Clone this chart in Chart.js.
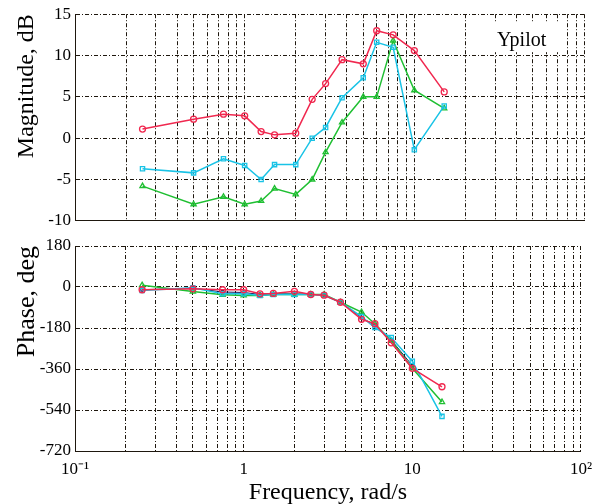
<!DOCTYPE html>
<html>
<head>
<meta charset="utf-8">
<script src="https://cdn.jsdelivr.net/npm/chart.js@4"></script>
<style>
  body { margin: 0; background: #fff; }
  .wrap { position: absolute; left: 0; width: 600px; }
  #top { top: 0; height: 235px; }
  #bottom { top: 230px; height: 274px; }
</style>
</head>
<body>
<div class="wrap" id="top"><canvas id="mag"></canvas></div>
<div class="wrap" id="bottom"><canvas id="phase"></canvas></div>
<script>
const freq = [0.25, 0.5, 0.75, 1, 1.25, 1.5, 2, 2.5, 3, 3.75, 5, 6, 7.5, 10, 15];

const magRed = [1.1, 2.3, 2.9, 2.7, 0.8, 0.4, 0.6, 4.7, 6.6, 9.5, 9.0, 13.0, 12.5, 10.6, 5.6];
const magCyan = [-3.7, -4.2, -2.5, -3.3, -5.0, -3.2, -3.2, 0.0, 1.3, 4.9, 7.3, 11.6, 11.0, -1.4, 3.9];
const magGreen = [-5.8, -8.0, -7.1, -8.0, -7.6, -6.1, -6.8, -5.0, -1.7, 1.9, 5.0, 5.0, 11.8, 5.8, 3.6];

const phRed = [-12, -8, -12, -12, -30, -28, -19, -33, -36, -67, -142, -161, -245, -357, -438];
const phCyan = [-15, -3, -30, -30, -37, -33, -33, -33, -36, -67, -130, -178, -222, -326, -568];
const phGreen = [8, -20, -34, -37, -37, -33, -33, -33, -33, -67, -110, -161, -236, -357, -505];
const phDark = [-12, -5, -22, -24, -33, -30, -30, -32, -36, -67, -135, -168, -232, -345];

const magTicks = [-10, -5, 0, 5, 10, 15];
const phaseTicks = [-720, -540, -360, -180, 0, 180];
const freqLabels = { "0.1": "10⁻¹", "1": "1", "10": "10", "100": "10²" };

const gridColor = "#1e170e";
const serif = "'Liberation Serif', 'Times New Roman', serif";

function logGridValues() {
  const vals = [];
  [0.1, 1, 10].forEach((d) => {
    for (let k = 1; k < 10; k++) vals.push(+(d * k).toPrecision(3));
  });
  vals.push(100);
  return vals;
}

function pts(values) {
  return values.map((y, i) => ({ x: freq[i], y }));
}

function series(values, color, style) {
  return {
    data: pts(values),
    borderColor: color,
    borderWidth: 1.5,
    pointStyle: style,
    pointRadius: 3,
    pointBorderColor: color,
    pointBorderWidth: 1.3,
    pointBackgroundColor: "rgba(255,255,255,0)",
    tension: 0,
  };
}

function xScale(showLabels) {
  return {
    type: "logarithmic",
    min: 0.1,
    max: 100,
    afterBuildTicks: (scale) => {
      scale.ticks = logGridValues().map((value) => ({ value }));
    },
    afterFit: (scale) => {
      scale.height = showLabels ? 53 : 0;
    },
    grid: { color: gridColor, lineWidth: 1, drawTicks: false },
    border: { color: gridColor, dash: [4, 2, 1, 2] },
    ticks: {
      display: showLabels,
      autoSkip: false,
      maxRotation: 0,
      padding: 8,
      color: "#000",
      font: { family: serif, size: 17 },
      callback: (v) => freqLabels[String(v)] ?? "",
    },
    title: {
      display: showLabels,
      text: "Frequency, rad/s",
      color: "#000",
      font: { family: serif, size: 24 },
      padding: { top: 0, bottom: -3 },
    },
  };
}

function yScale(min, max, tickValues, label, titleSize) {
  return {
    min,
    max,
    afterBuildTicks: (scale) => {
      scale.ticks = tickValues.map((value) => ({ value }));
    },
    afterFit: (scale) => {
      scale.width = 75;
    },
    grid: { color: gridColor, lineWidth: 1, drawTicks: false },
    border: { color: gridColor, dash: [4, 2, 1, 2] },
    ticks: {
      padding: 4,
      color: "#000",
      font: { family: serif, size: 17 },
    },
    title: {
      display: true,
      text: label,
      align: "end",
      color: "#000",
      font: { family: serif, size: titleSize },
      padding: { top: 12, bottom: 0 },
    },
  };
}

const ypilotLabel = {
  id: "ypilotLabel",
  afterDatasetsDraw(chart) {
    const { ctx, chartArea } = chart;
    const x = chartArea.right - 91;
    const y = chartArea.top + 8;
    ctx.save();
    ctx.fillStyle = "#fff";
    ctx.fillRect(x, y, 68, 30);
    ctx.fillStyle = "#000";
    ctx.font = "20px " + serif;
    ctx.textBaseline = "alphabetic";
    ctx.fillText("Ypilot", x + 4, y + 24);
    ctx.restore();
  },
};

const common = {
  responsive: true,
  maintainAspectRatio: false,
  animation: false,
  plugins: { legend: { display: false }, tooltip: { enabled: false } },
};

new Chart(document.getElementById("mag"), {
  type: "line",
  data: {
    datasets: [
      series(magRed, "#f0284f", "circle"),
      series(magCyan, "#19c3e6", "rect"),
      series(magGreen, "#1fbf32", "triangle"),
    ],
  },
  options: {
    ...common,
    layout: { padding: { top: 14, bottom: 6, left: 0, right: 16 } },
    scales: {
      x: xScale(false),
      y: yScale(-10, 15, magTicks, "Magnitude, dB", 24),
    },
  },
  plugins: [ypilotLabel],
});

const dark = series(phDark, "#1a1a5a", "circle");
dark.pointRadius = 1.5;
dark.borderWidth = 1;

new Chart(document.getElementById("phase"), {
  type: "line",
  data: {
    datasets: [
      series(phRed, "#f0284f", "circle"),
      series(phCyan, "#19c3e6", "rect"),
      series(phGreen, "#1fbf32", "triangle"),
      dark,
    ],
  },
  options: {
    ...common,
    layout: { padding: { top: 16, bottom: 0, left: 0, right: 16 } },
    scales: {
      x: xScale(true),
      y: yScale(-720, 180, phaseTicks, "Phase, deg", 26),
    },
  },
});
</script>
</body>
</html>
